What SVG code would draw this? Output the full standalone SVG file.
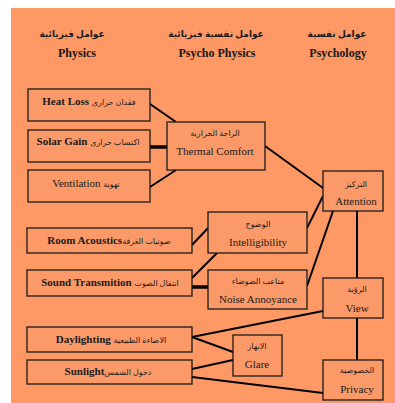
<svg xmlns="http://www.w3.org/2000/svg" width="395" height="403" viewBox="0 0 395 403">
<style>
.bx{fill:#fb9a68;stroke:#1a1a1a;stroke-width:1.3}
.ln{stroke:#000;stroke-width:2;fill:none}
.th{stroke:#000;stroke-width:3.5;fill:none}
text{font-family:"Liberation Serif","DejaVu Sans",serif;fill:#1a1a1a;text-anchor:middle}
.h{font-size:12px;font-weight:bold}
.ha{font-size:9px;font-weight:bold}
.t{font-size:11px}
.tb{font-size:11px;font-weight:bold}
.a{font-size:8px}
.ar{font-size:8px;font-weight:normal}
</style>
<rect x="0" y="0" width="395" height="403" fill="#fff"/>
<rect x="11" y="8" width="384" height="395" fill="#fe9966"/>
<g id="headers">
<text class="ha" x="72" y="37">عوامل فيزيائية</text>
<text class="h" x="77" y="57">Physics</text>
<text class="ha" x="216" y="37">عوامل نفسية فيزيائية</text>
<text class="h" x="217" y="57">Psycho Physics</text>
<text class="ha" x="337" y="37">عوامل نفسية</text>
<text class="h" x="338" y="57">Psychology</text>
</g>
<g id="connectors">
<line class="ln" x1="150" y1="104" x2="176" y2="122"/>
<line class="th" x1="150" y1="147" x2="167" y2="147"/>
<line class="ln" x1="150" y1="187" x2="176" y2="170"/>
<line class="ln" x1="265" y1="146" x2="323" y2="188"/>
<line class="ln" x1="307" y1="228" x2="323" y2="196"/>
<line class="ln" x1="307" y1="286" x2="333" y2="211"/>
<line class="ln" x1="357" y1="211" x2="357" y2="278"/>
<line class="ln" x1="357" y1="318" x2="357" y2="360"/>
<line class="ln" x1="192" y1="245" x2="208" y2="228"/>
<line class="ln" x1="192" y1="278" x2="217" y2="253"/>
<line class="th" x1="192" y1="287" x2="208" y2="287"/>
<line class="ln" x1="192" y1="337" x2="323" y2="311"/>
<line class="ln" x1="192" y1="337" x2="233" y2="352"/>
<line class="ln" x1="192" y1="369" x2="233" y2="360"/>
<line class="ln" x1="192" y1="377" x2="323" y2="393"/>
</g>
<g id="heatloss"><rect class="bx" x="28" y="89" width="122" height="32"/><text class="tb" x="89" y="105">Heat Loss <tspan class="ar">فقدان حرارى</tspan></text></g>
<g id="solargain"><rect class="bx" x="28" y="130" width="122" height="32"/><text class="tb" x="88" y="145">Solar Gain <tspan class="ar">اكتساب حرارى</tspan></text></g>
<g id="ventilation"><rect class="bx" x="28" y="170" width="122" height="32"/><text class="t" x="86" y="187">Ventilation <tspan class="ar">تهوية</tspan></text></g>
<g id="thermalcomfort"><rect class="bx" x="167" y="122" width="98" height="48"/><text class="a" x="215" y="136">الراحة الحرارية</text><text class="t" x="215" y="155">Thermal Comfort</text></g>
<g id="attention"><rect class="bx" x="323" y="171" width="60" height="40"/><text class="a" x="356" y="187">التركيز</text><text class="t" x="356" y="205">Attention</text></g>
<g id="intelligibility"><rect class="bx" x="208" y="212" width="99" height="41"/><text class="a" x="258" y="227">الوضوح</text><text class="t" x="258" y="246">Intelligibility</text></g>
<g id="noiseannoyance"><rect class="bx" x="208" y="270" width="99" height="39"/><text class="a" x="258" y="284">متاعب الضوضاء</text><text class="t" x="258" y="303">Noise Annoyance</text></g>
<g id="roomacoustics"><rect class="bx" x="27" y="228" width="165" height="25"/><text class="tb" x="109" y="244">Room Acoustics<tspan class="ar">صوتيات الغرفة</tspan></text></g>
<g id="soundtransmition"><rect class="bx" x="27" y="270" width="165" height="26"/><text class="tb" x="110" y="286">Sound Transmition <tspan class="ar">انتقال  الصوت</tspan></text></g>
<g id="view"><rect class="bx" x="323" y="278" width="60" height="40"/><text class="a" x="357" y="292">الرؤية</text><text class="t" x="357" y="312">View</text></g>
<g id="privacy"><rect class="bx" x="323" y="360" width="60" height="40"/><text class="a" x="357" y="373">الخصوصية</text><text class="t" x="357" y="393">Privacy</text></g>
<g id="daylighting"><rect class="bx" x="27" y="327" width="165" height="25"/><text class="tb" x="111" y="343">Daylighting <tspan class="ar">الاضاءة  الطبيعية</tspan></text></g>
<g id="sunlight"><rect class="bx" x="27" y="360" width="165" height="24"/><text class="tb" x="108" y="375">Sunlight<tspan class="ar">دخول الشمس</tspan></text></g>
<g id="glare"><rect class="bx" x="233" y="335" width="49" height="41"/><text class="a" x="257" y="349">الابهار</text><text class="t" x="257" y="368">Glare</text></g>
</svg>
